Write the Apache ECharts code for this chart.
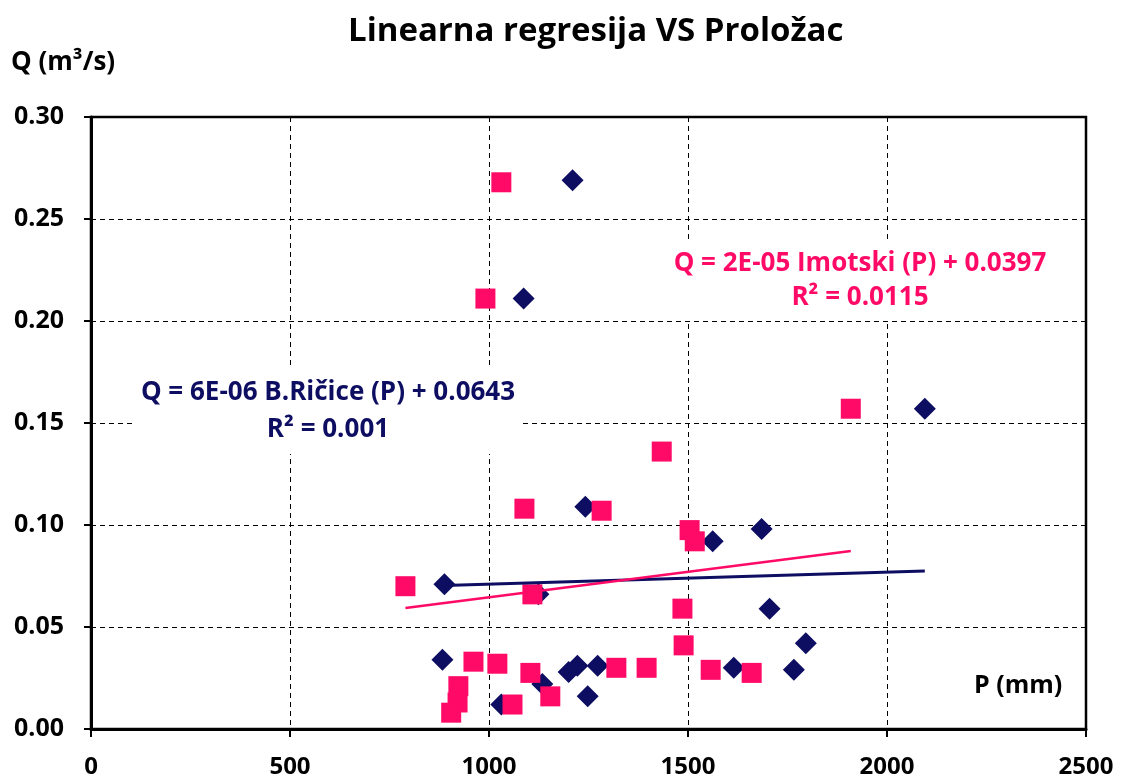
<!DOCTYPE html>
<html>
<head>
<meta charset="utf-8">
<title>Linearna regresija VS Proložac</title>
<script src="https://cdn.jsdelivr.net/npm/echarts@6/dist/echarts.min.js"></script>
<style>
  html, body { margin: 0; padding: 0; background: #fff; }
  #chart { width: 1126px; height: 781px; }
</style>
</head>
<body>
<div id="chart"></div>
<script>
// B.Ričice (P, Q) - tamnoplavi rombovi
const bricP = [1210, 1087, 2095, 1242, 1562, 1685, 888, 1705, 1796, 1766, 1615, 883, 1134, 1222, 1200, 1273, 1248, 1031, 1124];
const bricQ = [0.269, 0.211, 0.157, 0.109, 0.092, 0.098, 0.071, 0.059, 0.042, 0.029, 0.030, 0.034, 0.022, 0.031, 0.028, 0.031, 0.016, 0.012, 0.066];

// Imotski (P, Q) - ruzicasti kvadrati
const imoP = [1031, 991, 1909, 1434, 1089, 1283, 1504, 1517, 790, 1109, 1486, 1489, 961, 1021, 1104, 1320, 1396, 1557, 1660, 923, 921, 905, 1059, 1154];
const imoQ = [0.268, 0.211, 0.157, 0.136, 0.108, 0.107, 0.0975, 0.092, 0.070, 0.066, 0.059, 0.041, 0.033, 0.032, 0.0275, 0.030, 0.030, 0.029, 0.0275, 0.021, 0.013, 0.008, 0.012, 0.016];

// linije trenda (krajnje tocke)
const bricTrendP = [888, 2095];
const bricTrendQ = [0.0703, 0.0775];
const imoTrendP = [790, 1909];
const imoTrendQ = [0.0593, 0.0873];

const xTicks = [0, 500, 1000, 1500, 2000, 2500];
const yTicks = [0, 0.05, 0.10, 0.15, 0.20, 0.25, 0.30];

const navy = '#0d0d62';
const pink = '#ff0a66';
const font = '"Open Sans", sans-serif';

const zip = (a, b) => a.map((v, i) => [v, b[i]]);

let myChart = echarts.init(document.getElementById('chart'));
let option = {
    animation: false,
    backgroundColor: '#fff',
    title: {
        text: 'Linearna regresija VS Proložac',
        left: 343,
        top: 10,
        textStyle: { fontFamily: font, fontSize: 33, fontWeight: 'bold', color: '#000' }
    },
    grid: {
        left: 91, right: 40, top: 117, bottom: 52,
        show: true,
        borderColor: '#000',
        borderWidth: 2.5
    },
    xAxis: {
        type: 'value',
        min: xTicks[0],
        max: xTicks[xTicks.length - 1],
        interval: 500,
        axisLine: { show: true, onZero: false, lineStyle: { color: '#000', width: 3 } },
        axisTick: { show: true, length: 8, lineStyle: { color: '#000', width: 2 } },
        axisLabel: {
            margin: 26, fontFamily: font, fontSize: 24, fontWeight: 'bold', color: '#000',
            formatter: v => String(v)
        },
        splitLine: { show: true, lineStyle: { color: '#000', width: 1, type: [5, 4] } }
    },
    yAxis: {
        type: 'value',
        min: yTicks[0],
        max: yTicks[yTicks.length - 1],
        interval: 0.05,
        axisLine: { show: true, onZero: false, lineStyle: { color: '#000', width: 3 } },
        axisTick: { show: true, length: 7, lineStyle: { color: '#000', width: 2 } },
        axisLabel: {
            margin: 27, fontFamily: font, fontSize: 25, fontWeight: 'bold', color: '#000',
            formatter: v => v.toFixed(2)
        },
        splitLine: { show: true, lineStyle: { color: '#000', width: 1, type: [5, 4] } }
    },
    graphic: [
        {
            type: 'text', left: 11, top: 50,
            style: { text: 'Q (m³/s)', fontFamily: font, fontSize: 26, fontWeight: 'bold', fill: '#000' }
        },
        {
            type: 'text', left: 974, top: 673,
            style: { text: 'P (mm)', fontFamily: font, fontSize: 25, fontWeight: 'bold', fill: '#000' }
        },
        {
            type: 'text', x: 328, y: 411, z: 10,
            style: {
                text: 'Q = 6E-06 B.Ričice (P) + 0.0643\nR² = 0.001',
                align: 'center', verticalAlign: 'middle', lineHeight: 37,
                fontFamily: font, fontSize: 26, fontWeight: 'bold', fill: navy,
                backgroundColor: '#fff', padding: [6, 6]
            }
        },
        {
            type: 'text', x: 860, y: 281, z: 10,
            style: {
                text: 'Q = 2E-05 Imotski (P) + 0.0397\nR² = 0.0115',
                align: 'center', verticalAlign: 'middle', lineHeight: 34,
                fontFamily: font, fontSize: 26, fontWeight: 'bold', fill: pink,
                backgroundColor: '#fff', padding: [6, 6]
            }
        }
    ],
    series: [
        {
            name: 'B.Ričice',
            type: 'scatter',
            symbol: 'diamond',
            symbolSize: 22,
            data: zip(bricP, bricQ),
            itemStyle: { color: navy, opacity: 1 },
            z: 2
        },
        {
            name: 'Imotski',
            type: 'scatter',
            symbol: 'rect',
            symbolSize: 20,
            data: zip(imoP, imoQ),
            itemStyle: { color: pink, opacity: 1 },
            z: 3
        },
        {
            name: 'Trend B.Ričice',
            type: 'line',
            data: zip(bricTrendP, bricTrendQ),
            showSymbol: false,
            symbol: 'none',
            lineStyle: { color: navy, width: 3 },
            z: 4
        },
        {
            name: 'Trend Imotski',
            type: 'line',
            data: zip(imoTrendP, imoTrendQ),
            showSymbol: false,
            symbol: 'none',
            lineStyle: { color: pink, width: 2.5 },
            z: 4
        }
    ]
};
option && myChart.setOption(option);
window.addEventListener('resize', function () {
    myChart.resize();
});
</script>
</body>
</html>
